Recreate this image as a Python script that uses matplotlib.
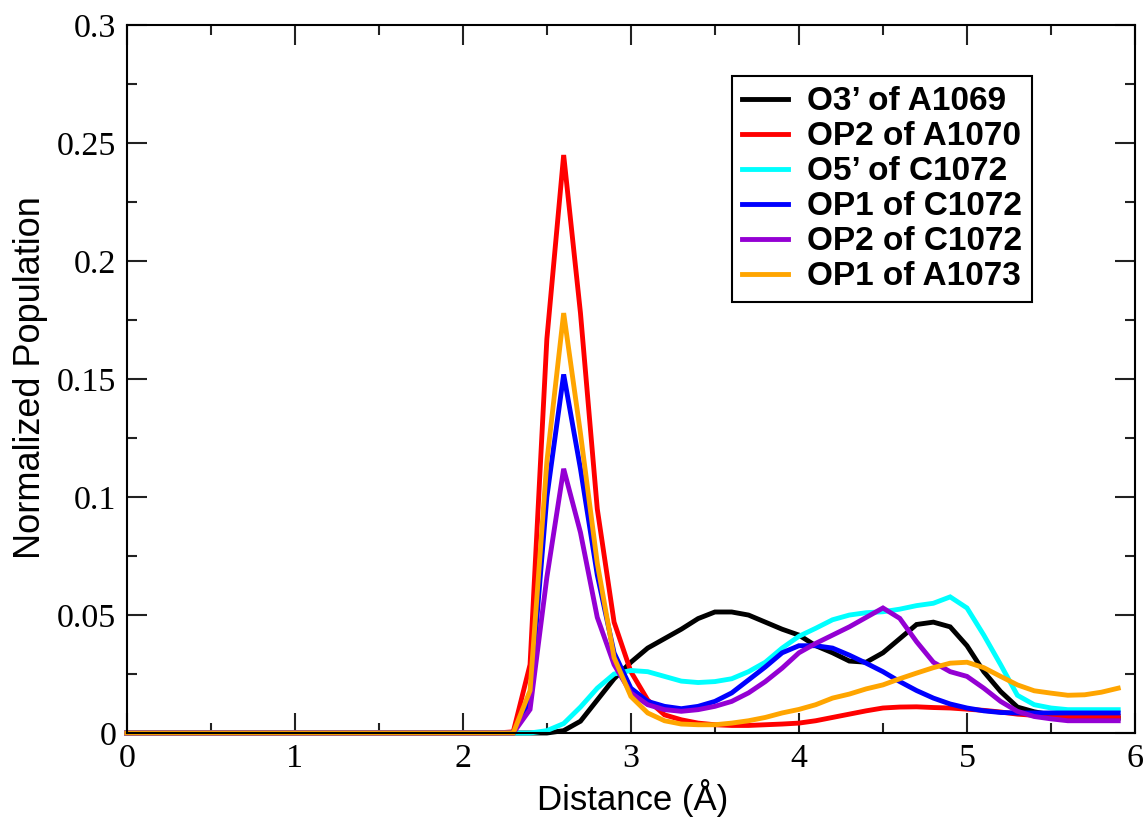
import numpy as np
import matplotlib
matplotlib.use("Agg")
import matplotlib.pyplot as plt
from matplotlib.ticker import MultipleLocator, FuncFormatter

# distance bins (Angstrom)
distance = [0.0, 0.1, 0.2, 0.3, 0.4, 0.5, 0.6, 0.7, 0.8, 0.9,
            1.0, 1.1, 1.2, 1.3, 1.4, 1.5, 1.6, 1.7, 1.8, 1.9,
            2.0, 2.1, 2.2, 2.3, 2.4, 2.5, 2.6, 2.7, 2.8, 2.9,
            3.0, 3.1, 3.2, 3.3, 3.4, 3.5, 3.6, 3.7, 3.8, 3.9,
            4.0, 4.1, 4.2, 4.3, 4.4, 4.5, 4.6, 4.7, 4.8, 4.9,
            5.0, 5.1, 5.2, 5.3, 5.4, 5.5, 5.6, 5.7, 5.8, 5.9]

zeros_to_2p2 = [0.0, 0.0, 0.0, 0.0, 0.0, 0.0, 0.0, 0.0, 0.0, 0.0,
                0.0, 0.0, 0.0, 0.0, 0.0, 0.0, 0.0, 0.0, 0.0, 0.0,
                0.0, 0.0, 0.0]

o3_a1069 = zeros_to_2p2 + [
    0.0, 0.0, 0.0, 0.001, 0.005, 0.014, 0.023,
    0.030, 0.036, 0.040, 0.044, 0.0485, 0.0513, 0.0513, 0.050, 0.047, 0.044,
    0.0415, 0.037, 0.034, 0.0305, 0.030, 0.034, 0.040, 0.046, 0.047, 0.045,
    0.037, 0.026, 0.0176, 0.011, 0.009, 0.0077, 0.007, 0.0065, 0.0063, 0.0063]

op2_a1070 = zeros_to_2p2 + [
    0.0005, 0.029, 0.167, 0.245, 0.178, 0.095, 0.047,
    0.026, 0.014, 0.0077, 0.0056, 0.0042, 0.0035, 0.0032, 0.0032, 0.0035, 0.0038,
    0.0042, 0.0052, 0.0066, 0.008, 0.0094, 0.0106, 0.011, 0.0111, 0.0108, 0.0106,
    0.0101, 0.0096, 0.0089, 0.008, 0.0075, 0.007, 0.007, 0.007, 0.007, 0.007]

o5_c1072 = zeros_to_2p2 + [
    0.0, 0.0, 0.001, 0.004, 0.011, 0.019, 0.025,
    0.0265, 0.026, 0.024, 0.022, 0.0214, 0.0218, 0.023, 0.026, 0.030, 0.036,
    0.041, 0.0444, 0.048, 0.050, 0.051, 0.0514, 0.0525, 0.054, 0.055, 0.0577,
    0.053, 0.0415, 0.029, 0.016, 0.012, 0.0106, 0.0099, 0.0099, 0.0099, 0.0099]

op1_c1072 = zeros_to_2p2 + [
    0.0, 0.014, 0.100, 0.152, 0.112, 0.067, 0.034,
    0.019, 0.0134, 0.0113, 0.0103, 0.0113, 0.0134, 0.017, 0.0225, 0.028, 0.034,
    0.037, 0.037, 0.036, 0.033, 0.0296, 0.026, 0.0218, 0.018, 0.0148, 0.0123,
    0.0106, 0.0094, 0.0087, 0.0085, 0.0085, 0.0085, 0.0085, 0.0085, 0.0085, 0.0085]

op2_c1072 = zeros_to_2p2 + [
    0.0, 0.010, 0.066, 0.112, 0.085, 0.049, 0.029,
    0.017, 0.012, 0.0099, 0.0092, 0.0099, 0.0113, 0.0134, 0.017, 0.0218, 0.0275,
    0.034, 0.038, 0.0415, 0.045, 0.049, 0.053, 0.0486, 0.0387, 0.030, 0.026,
    0.024, 0.019, 0.0134, 0.0092, 0.007, 0.006, 0.0052, 0.0052, 0.0052, 0.0052]

op1_a1073 = zeros_to_2p2 + [
    0.0, 0.018, 0.115, 0.178, 0.127, 0.072, 0.032,
    0.0155, 0.0085, 0.0052, 0.0038, 0.0035, 0.0035, 0.0042, 0.0052, 0.0066, 0.0085,
    0.010, 0.012, 0.0148, 0.0165, 0.0187, 0.0204, 0.023, 0.0254, 0.0277, 0.0296,
    0.030, 0.0277, 0.024, 0.0204, 0.0179, 0.0169, 0.016, 0.0162, 0.0173, 0.019]

labels = ["O3\u2019 of A1069", "OP2 of A1070", "O5\u2019 of C1072",
          "OP1 of C1072", "OP2 of C1072", "OP1 of A1073"]
colors = ["#000000", "#ff0000", "#00ffff", "#0000ff", "#9400d3", "#ffa500"]
series = [o3_a1069, op2_a1070, o5_c1072, op1_c1072, op2_c1072, op1_a1073]

fig = plt.figure(figsize=(11.48, 8.18), dpi=100)
ax = fig.add_axes([0.1104, 0.1039, 0.8783, 0.8652])

for y, c, lab in zip(series, colors, labels):
    ax.plot(distance, y, color=c, lw=3.5, label=lab, clip_on=False,
            solid_joinstyle="miter")

ax.set_xlim(0, 6)
ax.set_ylim(0, 0.3)
ax.xaxis.set_major_locator(MultipleLocator(1))
ax.xaxis.set_minor_locator(MultipleLocator(0.5))
ax.yaxis.set_major_locator(MultipleLocator(0.05))
ax.yaxis.set_minor_locator(MultipleLocator(0.025))
fmt = FuncFormatter(lambda v, p: "%g" % round(v, 3))
ax.xaxis.set_major_formatter(fmt)
ax.yaxis.set_major_formatter(fmt)

ax.tick_params(which="both", direction="in", top=True, right=True,
               width=1.5, color="#222222")
ax.tick_params(which="major", length=14.4, pad=7.5)
ax.tick_params(which="minor", length=7.2)
for lbl in ax.get_xticklabels() + ax.get_yticklabels():
    lbl.set_fontfamily("Liberation Serif")
    lbl.set_fontsize(24.5)
for sp in ax.spines.values():
    sp.set_linewidth(1.5)
    sp.set_zorder(5)

fig.text(633 / 1148, 1 - 810 / 818, "Distance (\u00c5)", ha="center", va="baseline",
         fontsize=25, family="Liberation Sans")
fig.text(13 / 1148, 1 - 378 / 818, "Normalized Population", ha="left", va="center",
         rotation=90, fontsize=26, family="Liberation Sans")

leg = ax.legend(loc="upper left", bbox_to_anchor=(0.600, 0.928), borderaxespad=0,
                prop={"family": "Liberation Sans", "weight": "bold", "size": 24},
                handlelength=1.38, handletextpad=0.58, labelspacing=0.12,
                borderpad=0.3, fancybox=False, framealpha=1)
leg.get_frame().set_edgecolor("black")
leg.get_frame().set_linewidth(1.5)
for h in leg.get_lines():
    h.set_linewidth(3.5)

fig.savefig("out.png", dpi=100)
